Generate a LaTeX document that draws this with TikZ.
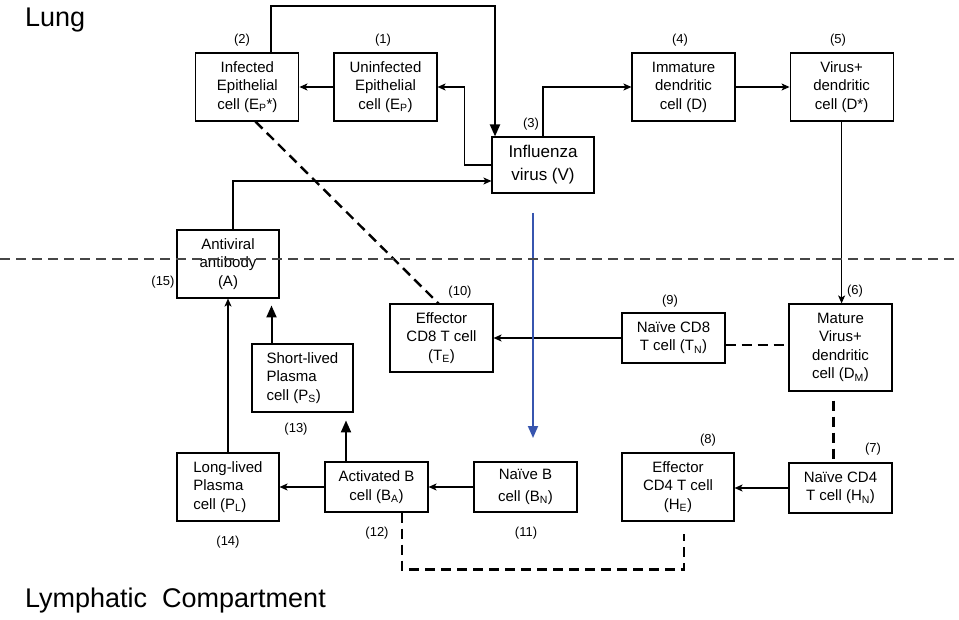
\documentclass[tikz,border=0pt]{standalone}
\usepackage{fontspec}
\setmainfont{Liberation Sans}
\usetikzlibrary{arrows.meta, positioning, calc}
\definecolor{sepgray}{RGB}{70,70,70}
\definecolor{flowblue}{RGB}{55,85,175}
\tikzset{
  cell box/.style={
    rectangle, draw=black, line width=1.1pt, fill=white,
    minimum width=103pt, minimum height=68pt,
    align=center, inner sep=1pt,
    font=\fontsize{15}{18.5}\selectfont
  },
  cell tag/.style={
    font=\fontsize{13}{15}\selectfont, inner sep=0pt
  },
  region label/.style={
    font=\fontsize{27}{30}\selectfont, anchor=base west, inner sep=0pt
  },
  cell arrow/.style={
    -{Stealth[length=8pt,width=7pt,inset=2pt]}, line width=1.1pt
  },
  cell heavy/.style={
    -{Triangle[length=12pt,width=10pt]}, line width=2pt
  },
  cell contact/.style={
    line width=2.4pt, dash pattern=on 10pt off 6pt
  }
}

\begin{document}
\begin{tikzpicture}[x=1pt, y=-1pt]
  \useasboundingbox (0,0) rectangle (959,620);
  % region titles
  \node (lung) [region label] at (25,27) {Lung};
  \node (lymph) [region label] at (25,607) {Lymphatic\ \ Compartment};
  % Lung: epithelium, virus, dendritic cells
  \node (ep1) [cell box] at (385.5,87) {Uninfected\\Epithelial\\cell (E\textsubscript{P})};
  \node (ep2) [cell box, left=34pt of ep1] {Infected\\Epithelial\\cell (E\textsubscript{P}*)};
  \node (virus) [cell box, minimum width=102pt, minimum height=56pt,
    font=\fontsize{17}{23}\selectfont] at (543,165) {Influenza\\virus (V)};
  \node (dimm) [cell box] at (683.5,87) {Immature\\dendritic\\cell (D)};
  \node (dvir) [cell box, right=54pt of dimm] {Virus+\\dendritic\\cell (D*)};
  \node (ab) [cell box, minimum width=102pt] at (228,264) {Antiviral\\antibody\\(A)};
  % Lymphatic: T cells
  \node (dm) [cell box, minimum height=87pt] at (840.5,347.5) {Mature\\Virus+\\dendritic\\cell (D\textsubscript{M})};
  \node (tn) [cell box, minimum height=50pt] at (673.5,338) {Naïve CD8\\T cell (T\textsubscript{N})};
  \node (te) [cell box] at (441.5,338) {Effector\\CD8 T cell\\(T\textsubscript{E})};
  \node (hn) [cell box, minimum height=50pt] at (840.5,488) {Naïve CD4\\T cell (H\textsubscript{N})};
  \node (he) [cell box, minimum width=112pt] at (678,487) {Effector\\CD4 T cell\\(H\textsubscript{E})};
  % Lymphatic: B cells and plasma cells
  \node (bn) [cell box, minimum height=50pt] at (525.5,487) {Naïve B\\[3pt]cell (B\textsubscript{N})};
  \node (ba) [cell box, minimum height=50pt] at (376.5,487) {Activated B\\cell (B\textsubscript{A})};
  \node (pl) [cell box, minimum width=102pt, align=left] at (228,487) {Long-lived\\Plasma\\cell (P\textsubscript{L})};
  \node (ps) [cell box, minimum width=101pt, align=left] at (302.5,378) {Short-lived\\Plasma\\cell (P\textsubscript{S})};
  % numbers
  \node (n1) [cell tag] at (383,40) {(1)};
  \node (n2) [cell tag] at (242,40) {(2)};
  \node (n3) [cell tag] at (531,124) {(3)};
  \node (n4) [cell tag] at (680,40) {(4)};
  \node (n5) [cell tag] at (838,40) {(5)};
  \node (n6) [cell tag] at (855,291) {(6)};
  \node (n7) [cell tag] at (873,449) {(7)};
  \node (n8) [cell tag] at (708,440) {(8)};
  \node (n9) [cell tag] at (670,301) {(9)};
  \node (n10) [cell tag] at (460,292) {(10)};
  \node (n11) [cell tag] at (526,533) {(11)};
  \node (n12) [cell tag] at (377,533) {(12)};
  \node (n13) [cell tag] at (296,429) {(13)};
  \node (n14) [cell tag] at (228,542) {(14)};
  \node (n15) [cell tag] at (163,282) {(15)};
  % free ends
  \coordinate (sepw) at (0,259);
  \coordinate (sepe) at (959,259);
  \coordinate (flowtop) at (533,213);
  \coordinate (flowbot) at (533,438);

  \draw [cell arrow] (ep1) -- (ep2);
  \draw [cell arrow] (virus.west) -- ++(-27,0) |- (ep1.east);
  \draw [cell heavy] ([xshift=24pt]ep2.north) -- ++(0,-46) -| ([xshift=-48pt]virus.north);
  \draw [cell arrow] (virus.north) |- (dimm.west);
  \draw [cell arrow] (dimm) -- (dvir);
  \draw [cell arrow] (dvir.south) -- (dvir.south |- dm.north);
  \draw [cell arrow] ([xshift=5pt]ab.north) |- ([yshift=-16pt]virus.west);
  \draw [cell contact] ([xshift=8pt]ep2.south) -- ([xshift=-3pt]te.north);
  \draw [cell arrow] (tn) -- (te);
  \draw [cell contact] ([yshift=-7pt]tn.east) -- ([yshift=-7pt]tn.east -| dm.west);
  \draw [cell contact] ([xshift=-7pt,yshift=-9pt]dm.south) -- ([xshift=-7pt]hn.north);
  \draw [cell arrow] (hn.west) -- (hn.west -| he.east);
  \draw [cell arrow] (bn) -- (ba);
  \draw [cell arrow] (ba) -- (pl);
  \draw [cell arrow] (pl) -- (ab);
  \draw [cell heavy] ([xshift=-30.5pt]ba.north) -- ++(0,-41);
  \draw [cell heavy] ([xshift=-31pt]ps.north) -- ++(0,-38);
  \draw [cell contact] ([xshift=25.5pt]ba.south) -- ++(0,57) -| ([xshift=6pt,yshift=-12pt]he.south);
  \draw [flowblue, line width=1.8pt, -{Triangle[length=12pt,width=10pt]}] (flowtop) -- (flowbot);
  \draw [sepgray, line width=1.4pt, dash pattern=on 10pt off 6pt] (sepw) -- (sepe);
\end{tikzpicture}
\end{document}
